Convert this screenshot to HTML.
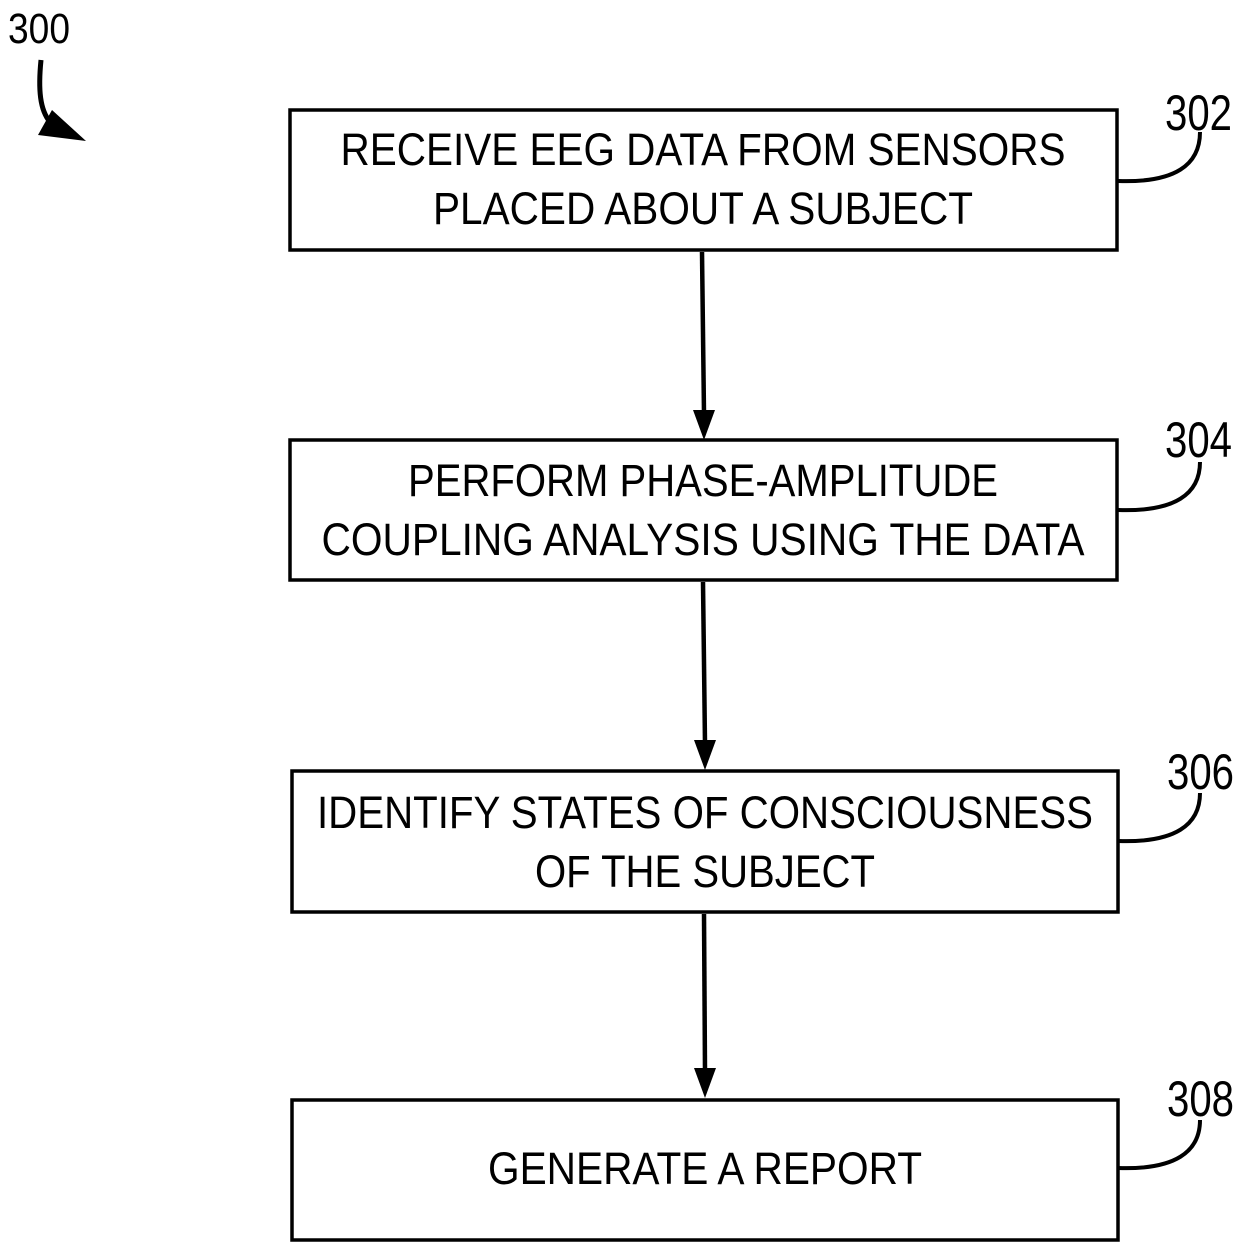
<!DOCTYPE html>
<html><head><style>html,body{margin:0;padding:0;background:#fff;}svg{display:block}</style></head>
<body>
<svg width="1240" height="1251" viewBox="0 0 1240 1251" xmlns="http://www.w3.org/2000/svg" font-family="Liberation Sans, sans-serif" fill="#000">
<g fill="none" stroke="#000" stroke-width="3.5">
<rect x="290" y="110" width="827" height="140"/>
<rect x="290" y="440" width="827" height="140"/>
<rect x="292" y="771" width="826" height="141"/>
<rect x="292" y="1100" width="826" height="140"/>
<path d="M702 252 L704 414" stroke-width="4.5"/>
<path d="M703 582 L705 744" stroke-width="4.5"/>
<path d="M704 914 L705 1072" stroke-width="4.5"/>
<path d="M1118 181 C1175 183 1200 165 1200 132" stroke-width="4"/>
<path d="M1118 510 C1175 512 1200 494 1200 462" stroke-width="4"/>
<path d="M1118 841 C1175 843 1200 825 1200 793" stroke-width="4"/>
<path d="M1118 1168 C1175 1170 1200 1152 1200 1120" stroke-width="4"/>
<path d="M41 60 C38 90 40 110 50 122" stroke-width="5"/>
</g>
<polygon points="693,410 715,410 704,440"/>
<polygon points="694,740 716,740 705,770"/>
<polygon points="694,1068 716,1068 705,1098"/>
<polygon points="38,135 52,110 86,141"/>
<g font-size="45" text-anchor="middle">
<text x="703" y="165" textLength="725" lengthAdjust="spacingAndGlyphs">RECEIVE EEG DATA FROM SENSORS</text>
<text x="703" y="224" textLength="540" lengthAdjust="spacingAndGlyphs">PLACED ABOUT A SUBJECT</text>
<text x="703" y="496" textLength="590" lengthAdjust="spacingAndGlyphs">PERFORM PHASE-AMPLITUDE</text>
<text x="703" y="555" textLength="763" lengthAdjust="spacingAndGlyphs">COUPLING ANALYSIS USING THE DATA</text>
<text x="705" y="828" textLength="776" lengthAdjust="spacingAndGlyphs">IDENTIFY STATES OF CONSCIOUSNESS</text>
<text x="705" y="887" textLength="340" lengthAdjust="spacingAndGlyphs">OF THE SUBJECT</text>
<text x="705" y="1184" textLength="434" lengthAdjust="spacingAndGlyphs">GENERATE A REPORT</text>
</g>
<g font-size="50">
<text x="1165" y="130" textLength="67" lengthAdjust="spacingAndGlyphs">302</text>
<text x="1165" y="457" textLength="67" lengthAdjust="spacingAndGlyphs">304</text>
<text x="1167" y="789" textLength="67" lengthAdjust="spacingAndGlyphs">306</text>
<text x="1167" y="1116" textLength="67" lengthAdjust="spacingAndGlyphs">308</text>
</g>
<text x="8" y="43" font-size="43" textLength="62" lengthAdjust="spacingAndGlyphs">300</text>
</svg>
</body></html>
